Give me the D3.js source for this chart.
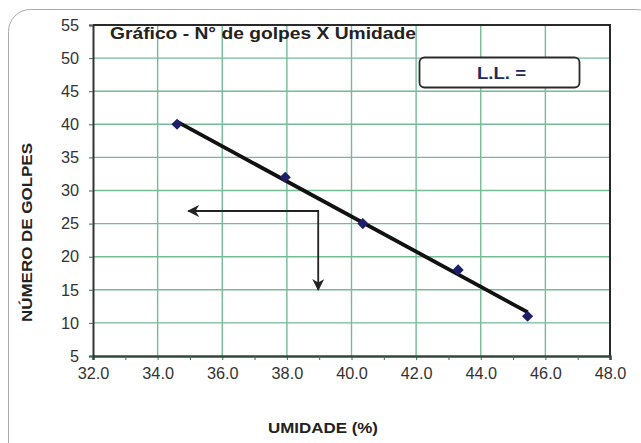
<!DOCTYPE html>
<html><head><meta charset="utf-8">
<script src="https://cdn.jsdelivr.net/npm/d3@7"></script>
<style>
html,body{margin:0;padding:0;background:#fff;}
svg{display:block;font-family:"Liberation Sans",Arial,sans-serif;}
</style></head>
<body>
<svg id="chart" width="641" height="443"></svg>
<script>
// Data
const umidade = [34.6, 37.95, 40.35, 43.3, 45.45];
const golpes = [40, 32, 25, 18, 11];
const xTicks = [32, 34, 36, 38, 40, 42, 44, 46, 48];
const xMinorTicks = [33, 35, 37, 39, 41, 43, 45, 47];
const yTicks = [5, 10, 15, 20, 25, 30, 35, 40, 45, 50, 55];
const titleText = "Gráfico - N° de golpes X Umidade";
const xTitle = "UMIDADE (%)";
const yTitle = "NÚMERO DE GOLPES";
const llText = "L.L. =";
// annotation arrow (data coords): left tip, corner, bottom tip
const arrowLeft = [34.95, 26.9];
const arrowCorner = [38.97, 26.9];
const arrowDown = [38.97, 15.0];

const svg = d3.select("#chart");
const L = 93, R = 610, T = 25, B = 356;

// Outer frame
svg.append("rect").attr("x", 8.5).attr("y", 9.5).attr("width", 650).attr("height", 460)
  .attr("rx", 22).attr("ry", 22).attr("fill", "none").attr("stroke", "#a8a8a8").attr("stroke-width", 1);

const x = d3.scaleLinear().domain([32, 48]).range([L, R]);
const y = d3.scaleLinear().domain([5, 55]).range([B, T]);

// grid
const g = svg.append("g");
g.selectAll(".vg").data(xTicks.slice(1, -1)).join("line")
  .attr("x1", d => x(d)).attr("x2", d => x(d)).attr("y1", T).attr("y2", B)
  .attr("stroke", "#74bb96").attr("stroke-width", 1.4);
g.selectAll(".hg").data(yTicks.slice(1, -1)).join("line")
  .attr("y1", d => y(d)).attr("y2", d => y(d)).attr("x1", L).attr("x2", R)
  .attr("stroke", "#74bb96").attr("stroke-width", 1.4);

// plot border top/right
svg.append("line").attr("x1", L).attr("x2", R + 1).attr("y1", T).attr("y2", T).attr("stroke", "#2a2a2a").attr("stroke-width", 2);
svg.append("line").attr("x1", R).attr("x2", R).attr("y1", T).attr("y2", B).attr("stroke", "#2a2a2a").attr("stroke-width", 2);

// axes
const xAxis = d3.axisBottom(x).tickValues(xTicks).tickFormat(d3.format(".1f")).tickSize(4).tickPadding(7);
const xMinor = d3.axisBottom(x).tickValues(xMinorTicks).tickFormat("").tickSize(4);
const yAxis = d3.axisLeft(y).tickValues(yTicks).tickFormat(d3.format("d")).tickSize(4).tickPadding(10);

const gx = svg.append("g").attr("transform", `translate(0,${B})`).call(xAxis);
const gxm = svg.append("g").attr("transform", `translate(0,${B})`).call(xMinor);
const gy = svg.append("g").attr("transform", `translate(${L},0)`).call(yAxis);
[gx, gxm, gy].forEach(a => {
  a.select(".domain").attr("stroke", "#2f4a3a").attr("stroke-width", 2);
  a.selectAll(".tick line").attr("stroke", "#3a6a50").attr("stroke-width", 1);
  a.selectAll("text").attr("font-size", 16.3).attr("fill", "#333").attr("font-family", '"Liberation Sans",Arial,sans-serif');
});
gy.select(".domain").attr("stroke", "#333");

// trend line (least squares)
const mx = d3.mean(umidade), my = d3.mean(golpes);
const sxy = d3.sum(umidade, (d, i) => (d - mx) * (golpes[i] - my));
const sxx = d3.sum(umidade, d => (d - mx) * (d - mx));
const slope = sxy / sxx, icpt = my - slope * mx;
const xmin = d3.min(umidade), xmax = d3.max(umidade);
svg.append("line").attr("x1", x(xmin)).attr("y1", y(icpt + slope * xmin))
  .attr("x2", x(xmax)).attr("y2", y(icpt + slope * xmax))
  .attr("stroke", "#111").attr("stroke-width", 3.8);

// markers
svg.selectAll(".pt").data(umidade).join("path")
  .attr("d", d3.symbol().type(d3.symbolSquare).size(62))
  .attr("transform", (d, i) => `translate(${x(d)},${y(golpes[i])}) rotate(45)`)
  .attr("fill", "#1d1f6b");

// arrows
const defs = svg.append("defs");
defs.append("marker").attr("id", "ah").attr("viewBox", "0 0 10 10").attr("refX", 9).attr("refY", 5)
  .attr("markerWidth", 12).attr("markerHeight", 12).attr("markerUnits", "userSpaceOnUse").attr("orient", "auto")
  .append("path").attr("d", "M0,0 L10,5 L0,10 L3,5 Z").attr("fill", "#222");
defs.append("marker").attr("id", "ahs").attr("viewBox", "0 0 10 10").attr("refX", 1).attr("refY", 5)
  .attr("markerWidth", 12).attr("markerHeight", 12).attr("markerUnits", "userSpaceOnUse").attr("orient", "auto")
  .append("path").attr("d", "M10,0 L0,5 L10,10 L7,5 Z").attr("fill", "#222");
svg.append("polyline")
  .attr("points", [arrowLeft, arrowCorner, arrowDown].map(p => `${x(p[0])},${y(p[1])}`).join(" "))
  .attr("fill", "none").attr("stroke", "#222").attr("stroke-width", 1.8)
  .attr("marker-start", "url(#ahs)").attr("marker-end", "url(#ah)");

// title
svg.append("text").attr("x", 110).attr("y", 38.5).attr("font-size", 17).attr("font-weight", "bold")
  .attr("fill", "#222").attr("textLength", 306).attr("lengthAdjust", "spacingAndGlyphs").text(titleText);

// L.L. box
svg.append("rect").attr("x", 419.5).attr("y", 57.5).attr("width", 160).attr("height", 30)
  .attr("rx", 5).attr("fill", "#fff").attr("stroke", "#2a2a2a").attr("stroke-width", 1.8);
svg.append("text").attr("x", 477).attr("y", 79).attr("font-size", 17)
  .attr("font-weight", "bold").attr("fill", "#1f2a5c").attr("textLength", 49).attr("lengthAdjust", "spacingAndGlyphs").text(llText);

// axis titles
svg.append("text").attr("x", 268).attr("y", 433).attr("font-size", 15.5)
  .attr("font-weight", "bold").attr("fill", "#222").attr("textLength", 110).attr("lengthAdjust", "spacingAndGlyphs").text(xTitle);
svg.append("text").attr("transform", "translate(32,322) rotate(-90)")
  .attr("font-size", 15.5).attr("font-weight", "bold").attr("fill", "#222")
  .attr("textLength", 179).attr("lengthAdjust", "spacingAndGlyphs").text(yTitle);
</script>
</body></html>
